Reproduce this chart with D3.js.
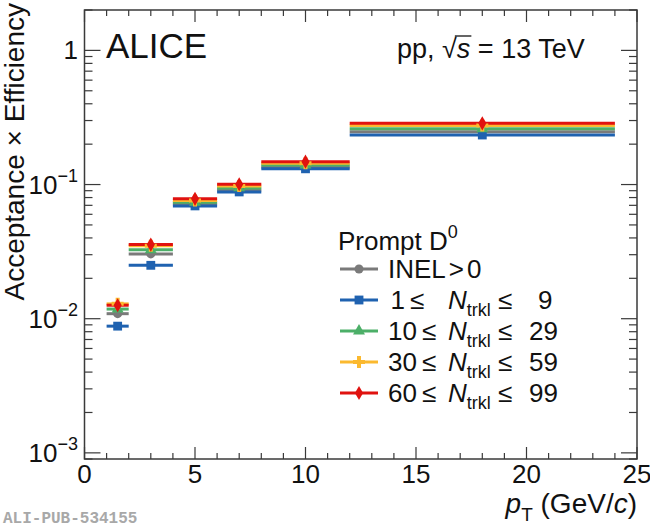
<!DOCTYPE html>
<html>
<head>
<meta charset="utf-8">
<script src="https://cdn.jsdelivr.net/npm/d3@7"></script>
<style>
  body { margin: 0; background: #fff; }
  svg { font-family: "Liberation Sans", Arial, Helvetica, sans-serif; }
</style>
</head>
<body>
<svg id="chart" width="650" height="528"></svg>
<script>
// pT bins (GeV/c)
const ptLow  = [1, 2, 4, 6, 8, 12];
const ptHigh = [2, 4, 6, 8, 12, 24];
const ptMid  = [1.5, 3, 5, 7, 10, 18];

// acceptance x efficiency per multiplicity class
const effInel   = [0.0109, 0.0304, 0.0717, 0.0910, 0.135, 0.247];
const eff1to9   = [0.0088, 0.0250, 0.0693, 0.0881, 0.131, 0.234];
const eff10to29 = [0.0118, 0.0326, 0.0738, 0.0944, 0.140, 0.260];
const eff30to59 = [0.0129, 0.0350, 0.0759, 0.0977, 0.144, 0.275];
const eff60to99 = [0.0126, 0.0357, 0.0782, 0.1005, 0.148, 0.286];

const xTicks = [0, 5, 10, 15, 20, 25];
const yDecades = [-3, -2, -1, 0];

const series = [
  {lo: null, hi: null, values: effInel,   color: "#7a7a7a", symbol: d3.symbolCircle,   size: 64},
  {lo: "1",  hi: "9",  values: eff1to9,   color: "#1f62b0", symbol: d3.symbolSquare,   size: 78},
  {lo: "10", hi: "29", values: eff10to29, color: "#4caf68", symbol: d3.symbolTriangle, size: 62},
  {lo: "30", hi: "59", values: eff30to59, color: "#fbb92f", symbol: d3.symbolCross,    size: 80},
  {lo: "60", hi: "99", values: eff60to99, color: "#e0120f", symbol: d3.symbolDiamond,  size: 58}
];

const frame = {left: 84.5, right: 637, top: 10, bottom: 459};
const axisColor = "#3a3a3a";
const ink = "#111";

const svg = d3.select("#chart");

const x = d3.scaleLinear().domain([0, 25]).range([frame.left, frame.right]);
const y = d3.scaleLog().domain([9e-4, 2]).range([frame.bottom, frame.top]);

// frame
svg.append("rect")
  .attr("x", frame.left).attr("y", frame.top)
  .attr("width", frame.right - frame.left)
  .attr("height", frame.bottom - frame.top)
  .attr("fill", "none")
  .attr("stroke", axisColor)
  .attr("stroke-width", 1.5);

// x ticks (bottom and top, pointing inwards)
const ticksG = svg.append("g").attr("stroke", axisColor).attr("stroke-width", 1.2);
d3.range(0, 26, 1).forEach(v => {
  const len = v % 5 === 0 ? 12 : 6;
  ticksG.append("line").attr("x1", x(v)).attr("x2", x(v))
    .attr("y1", frame.bottom).attr("y2", frame.bottom - len);
  ticksG.append("line").attr("x1", x(v)).attr("x2", x(v))
    .attr("y1", frame.top).attr("y2", frame.top + len);
});

// y ticks (left and right)
const yMinor = [];
for (let e = -4; e <= 0; e++) {
  for (let m = 1; m <= 9; m++) {
    const v = m * Math.pow(10, e);
    if (v >= 9e-4 && v <= 2) yMinor.push({v: v, major: m === 1});
  }
}
yMinor.forEach(t => {
  const len = t.major ? 16 : 8;
  ticksG.append("line").attr("x1", frame.left).attr("x2", frame.left + len)
    .attr("y1", y(t.v)).attr("y2", y(t.v));
  ticksG.append("line").attr("x1", frame.right).attr("x2", frame.right - len)
    .attr("y1", y(t.v)).attr("y2", y(t.v));
});

// x tick labels
svg.append("g").selectAll("text")
  .data(xTicks).enter().append("text")
  .attr("x", d => x(d))
  .attr("y", 483)
  .attr("text-anchor", "middle")
  .attr("font-size", 26)
  .attr("fill", ink)
  .text(d => d);

// y tick labels
yDecades.forEach(e => {
  const t = svg.append("text")
    .attr("x", 78)
    .attr("y", y(Math.pow(10, e)) + 9)
    .attr("text-anchor", "end")
    .attr("font-size", 26)
    .attr("fill", ink);
  if (e === 0) {
    t.text("1");
  } else {
    t.append("tspan").text("10");
    t.append("tspan").attr("font-size", 18).attr("dy", -12).text("\u2212" + (-e));
  }
});

// axis titles
svg.append("text")
  .attr("transform", "translate(24,3) rotate(-90)")
  .attr("text-anchor", "end")
  .attr("font-size", 28)
  .attr("fill", ink)
  .text("Acceptance \u00d7 Efficiency");

const xt = svg.append("text")
  .attr("x", frame.right).attr("y", 513)
  .attr("text-anchor", "end")
  .attr("font-size", 28)
  .attr("fill", ink);
xt.append("tspan").attr("font-style", "italic").text("p");
xt.append("tspan").attr("font-size", 19).attr("dy", 8).text("T");
xt.append("tspan").attr("dy", -8).text("\u00a0(GeV/");
xt.append("tspan").attr("font-style", "italic").text("c");
xt.append("tspan").text(")");

// plot labels
svg.append("text").attr("x", 106).attr("y", 58)
  .attr("font-size", 35).attr("fill", ink).text("ALICE");

const sysX = 397, sysY = 58, sysSize = 27;
const part1 = svg.append("text").attr("x", sysX).attr("y", sysY)
  .attr("font-size", sysSize).attr("fill", ink).text("pp, \u221a");
const w1 = part1.node().getComputedTextLength();
const part2 = svg.append("text").attr("x", sysX + w1).attr("y", sysY)
  .attr("font-size", sysSize).attr("font-style", "italic").attr("fill", ink).text("s");
const w2 = part2.node().getComputedTextLength();
svg.append("text").attr("x", sysX + w1 + w2).attr("y", sysY)
  .attr("font-size", sysSize).attr("fill", ink).text("\u00a0= 13 TeV");
// overline of the square root
svg.append("line")
  .attr("x1", sysX + w1 - 2).attr("x2", sysX + w1 + w2 + 1)
  .attr("y1", sysY - 22).attr("y2", sysY - 22)
  .attr("stroke", ink).attr("stroke-width", 1.3);

// watermark
svg.append("text").attr("x", 3).attr("y", 523)
  .attr("font-family", "'Liberation Mono', 'DejaVu Sans Mono', monospace")
  .attr("font-weight", "bold")
  .attr("font-size", 16)
  .attr("fill", "#a8a8a8")
  .text("ALI-PUB-534155");

// data: horizontal bin-width bars, then markers on top
const dataG = svg.append("g");
series.forEach(s => {
  dataG.append("g").selectAll("line")
    .data(s.values).enter().append("line")
    .attr("x1", (d, i) => x(ptLow[i]))
    .attr("x2", (d, i) => x(ptHigh[i]))
    .attr("y1", d => y(d)).attr("y2", d => y(d))
    .attr("stroke", s.color)
    .attr("stroke-width", 3);
});
series.forEach(s => {
  dataG.append("g").selectAll("path")
    .data(s.values).enter().append("path")
    .attr("d", d3.symbol().type(s.symbol).size(s.size))
    .attr("transform", (d, i) => "translate(" + x(ptMid[i]) + "," + y(d) + ")")
    .attr("fill", s.color);
});

// legend
const leg = svg.append("g");
const fs = 26;
const lt = leg.append("text").attr("x", 338).attr("y", 250)
  .attr("font-size", fs).attr("fill", ink);
lt.append("tspan").text("Prompt D");
lt.append("tspan").attr("font-size", 18).attr("dy", -12).text("0");

const rowY = [269, 300, 331, 362, 393];
series.forEach((s, i) => {
  const cy = rowY[i];
  leg.append("line").attr("x1", 340).attr("x2", 378)
    .attr("y1", cy).attr("y2", cy)
    .attr("stroke", s.color).attr("stroke-width", 3);
  leg.append("path")
    .attr("d", d3.symbol().type(s.symbol).size(s.size))
    .attr("transform", "translate(359," + cy + ")")
    .attr("fill", s.color);
  const base = cy + 9;
  const txt = (xx, str, anchor) => leg.append("text").attr("x", xx).attr("y", base)
    .attr("text-anchor", anchor || "start")
    .attr("font-size", fs).attr("fill", ink).text(str);
  if (s.lo === null) {
    const t = leg.append("text").attr("x", 388).attr("y", base)
      .attr("font-size", fs).attr("fill", ink);
    t.append("tspan").text("INEL");
    t.append("tspan").attr("dx", 3).text(">");
    t.append("tspan").attr("dx", 3).text("0");
  } else {
    const short = s.lo.length === 1;
    txt(short ? 405 : 417, s.lo, "end");
    txt(short ? 410 : 422, "\u2264");
    const n = leg.append("text").attr("x", 448).attr("y", base)
      .attr("font-size", fs).attr("fill", ink);
    n.append("tspan").attr("font-style", "italic").text("N");
    n.append("tspan").attr("font-size", 18).attr("dy", 7).text("trkl");
    txt(498, "\u2264");
    if (short) txt(538, s.hi);
    else txt(558, s.hi, "end");
  }
});
</script>
</body>
</html>
